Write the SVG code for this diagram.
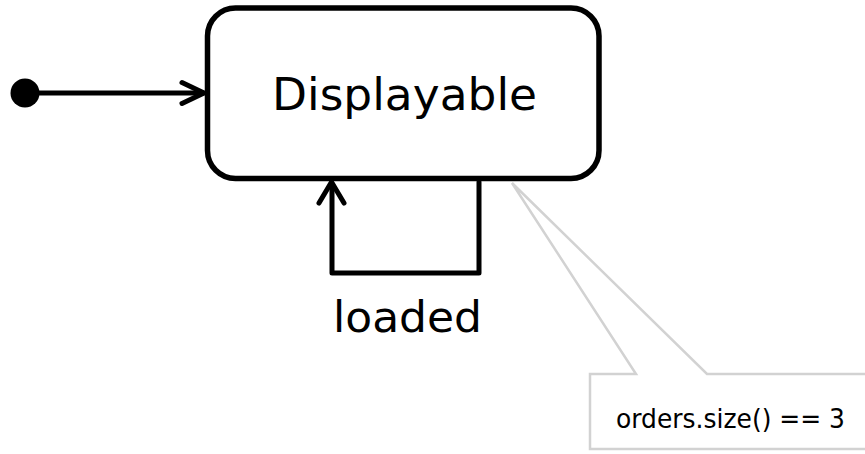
<svg xmlns="http://www.w3.org/2000/svg" width="865" height="454" viewBox="0 0 865 454">
  <style>
    .state { fill: #ffffff; stroke: #000000; stroke-width: 5.5; }
    .edge { fill: none; stroke: #000000; stroke-width: 5; stroke-linecap: round; stroke-linejoin: round; }
    .note { fill: #ffffff; stroke: #d2d2d2; stroke-width: 2.5; }
    .label { font-family: "DejaVu Sans", "Liberation Sans", sans-serif; fill: #000000; text-anchor: start; }
  </style>
  <rect width="865" height="454" fill="#ffffff"/>

  <!-- comment note attached to the state -->
  <g id="note-orders">
    <polygon class="note" points="512,183 707,374 867,374 867,449 590,449 590,374 636,374"/>
    <text class="label" x="616" y="428" font-size="27" textLength="229" lengthAdjust="spacingAndGlyphs">orders.size() == 3</text>
  </g>

  <!-- initial pseudo-state -->
  <g id="initial">
    <circle cx="25" cy="93" r="14.5" fill="#000000"/>
  </g>

  <!-- state -->
  <g id="state-displayable">
    <rect class="state" x="207.5" y="8" width="391.5" height="170.5" rx="28" ry="28"/>
    <text class="label" x="272" y="110" font-size="44" textLength="265" lengthAdjust="spacingAndGlyphs">Displayable</text>
  </g>

  <!-- transitions -->
  <g id="connectors">
    <g id="edge-initial">
      <line class="edge" x1="25" y1="93" x2="203" y2="93" stroke-width="4"/>
      <polyline class="edge" points="182,82.5 204,93 182,103.5" stroke-width="4"/>
    </g>
    <g id="edge-loaded">
      <path class="edge" d="M479,182 V273 H332 V184"/>
      <polyline class="edge" points="319,203 331.5,182 344,203"/>
      <text class="label" x="333" y="332" font-size="42" textLength="149" lengthAdjust="spacingAndGlyphs">loaded</text>
    </g>
  </g>
</svg>
